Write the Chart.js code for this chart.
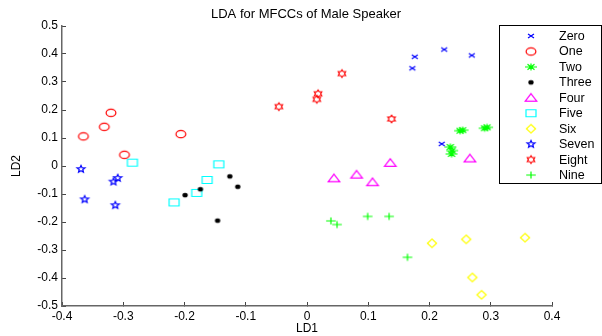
<!DOCTYPE html>
<html>
<head>
<meta charset="utf-8">
<script src="https://cdn.jsdelivr.net/npm/chart.js@4/dist/chart.umd.min.js"></script>
<style>
html,body{margin:0;padding:0;background:#fff;overflow:hidden}
#wrap{width:602px;height:336px;position:relative}
</style>
</head>
<body>
<div id="wrap"><canvas id="c" width="602" height="336"></canvas></div>
<script>
// ---------- data ----------
const categories = ['Zero','One','Two','Three','Four','Five','Six','Seven','Eight','Nine'];
const zeroPts  = [[0.176,0.390],[0.224,0.416],[0.269,0.395],[0.172,0.349],[0.220,0.079]];
const onePts   = [[-0.320,0.190],[-0.331,0.140],[-0.365,0.106],[-0.206,0.114],[-0.298,0.040]];
const twoPts   = [[0.250,0.126],[0.254,0.128],[0.294,0.138],[0.290,0.135],[0.234,0.068],[0.236,0.043],[0.237,0.055]];
const threePts = [[-0.199,-0.104],[-0.174,-0.083],[-0.126,-0.037],[-0.113,-0.074],[-0.146,-0.195]];
const fourPts  = [[0.044,-0.044],[0.081,-0.031],[0.107,-0.058],[0.136,0.011],[0.266,0.027]];
const fivePts  = [[-0.285,0.012],[-0.144,0.006],[-0.163,-0.050],[-0.180,-0.096],[-0.217,-0.130]];
const sixPts   = [[0.204,-0.276],[0.260,-0.262],[0.356,-0.256],[0.270,-0.398],[0.285,-0.460]];
const sevenPts = [[-0.369,-0.011],[-0.309,-0.043],[-0.316,-0.056],[-0.363,-0.119],[-0.313,-0.140]];
const eightPts = [[0.057,0.330],[0.018,0.258],[0.016,0.238],[-0.046,0.212],[0.138,0.168]];
const ninePts  = [[0.039,-0.196],[0.049,-0.209],[0.099,-0.180],[0.134,-0.180],[0.164,-0.326]];
const xTicks = [-0.4,-0.3,-0.2,-0.1,0,0.1,0.2,0.3,0.4];
const yTicks = [-0.5,-0.4,-0.3,-0.2,-0.1,0,0.1,0.2,0.3,0.4,0.5];
const series = [zeroPts,onePts,twoPts,threePts,fourPts,fivePts,sixPts,sevenPts,eightPts,ninePts];

// ---------- styles ----------
const colors = ['#0000ff','#ff0000','#00ff00','#000000','#ff00ff','#00ffff','#ffff00','#0000ff','#ff0000','#00ff00'];
const FONT = '"Liberation Sans", Arial, Helvetica, sans-serif';

function mk(draw, color){
  const cv = document.createElement('canvas');
  cv.width = 16; cv.height = 12;
  const g = cv.getContext('2d');
  g.strokeStyle = color; g.fillStyle = color; g.lineWidth = 1.2;
  g.translate(8, 6);
  draw(g);
  return cv;
}
function poly(g, pts, fill){
  g.beginPath(); g.moveTo(pts[0][0], pts[0][1]);
  for (let i=1;i<pts.length;i++) g.lineTo(pts[i][0], pts[i][1]);
  g.closePath(); fill ? g.fill() : g.stroke();
}
function star(n, rxo, ryo, ratio, rot){
  const p=[];
  for (let i=0;i<2*n;i++){
    const a = rot + i*Math.PI/n;
    const r = (i%2===0)?1:ratio;
    p.push([Math.cos(a)*rxo*r, Math.sin(a)*ryo*r]);
  }
  return p;
}
const shapes = [
  g => { g.beginPath(); g.moveTo(-3,-2); g.lineTo(3,2); g.moveTo(-3,2); g.lineTo(3,-2); g.stroke(); },
  g => { g.beginPath(); g.ellipse(0,0,4.9,3.7,0,0,Math.PI*2); g.stroke(); },
  g => { g.beginPath(); g.moveTo(-6,0); g.lineTo(6,0); g.moveTo(0,-3.5); g.lineTo(0,3.5);
         g.moveTo(-3.5,-2.8); g.lineTo(3.5,2.8); g.moveTo(-3.5,2.8); g.lineTo(3.5,-2.8); g.stroke(); },
  g => { g.beginPath(); g.ellipse(0,0,2.7,2.3,0,0,Math.PI*2); g.fill(); },
  g => poly(g, [[0,-4.2],[5.8,3.4],[-5.8,3.4]]),
  g => poly(g, [[-5,-3.5],[5,-3.5],[5,3.5],[-5,3.5]]),
  g => poly(g, [[0,-4.2],[4.6,0],[0,4.2],[-4.6,0]]),
  g => poly(g, star(5,4.2,3.7,0.45,-Math.PI/2)),
  g => poly(g, star(6,4.3,3.8,0.6,-Math.PI/2)),
  g => { g.beginPath(); g.moveTo(-4.8,0); g.lineTo(4.8,0); g.moveTo(0,-3.6); g.lineTo(0,3.6); g.stroke(); }
];
const markers = shapes.map((s,i)=>mk(s, colors[i]));

const legendPlugin = {
  id: 'mlegend',
  afterDraw(chart){
    const ctx = chart.ctx;
    ctx.save();
    ctx.fillStyle = '#fff';
    ctx.fillRect(499, 25, 103, 158);
    ctx.strokeStyle = '#000'; ctx.lineWidth = 1;
    ctx.strokeRect(499.5, 25.5, 102, 158);
    ctx.font = '12.5px ' + FONT;
    ctx.textBaseline = 'middle'; ctx.textAlign = 'left';
    chart.data.datasets.forEach((ds,i)=>{
      const y = 36 + i*15.45;
      const img = ds.pointStyle;
      ctx.drawImage(img, 531 - img.width/2, y - img.height/2);
      ctx.fillStyle = '#000';
      ctx.fillText(ds.label, 559, y + 0.5);
    });
    ctx.restore();
  }
};

const fmt = v => { const r = Math.round(v*10)/10; return r === 0 ? '0' : String(r); };

new Chart(document.getElementById('c'), {
  type: 'scatter',
  data: {
    datasets: categories.map((name,i)=>({
      label: name,
      data: series[i].map(([x,y])=>({x,y})),
      pointStyle: markers[i],
      pointRadius: 5, pointHoverRadius: 5,
      borderColor: colors[i], backgroundColor: colors[i],
      showLine: false
    }))
  },
  options: {
    responsive: false, animation: false, devicePixelRatio: 1,
    layout: { padding: { left: 10, right: 0, top: 0, bottom: 0 } },
    plugins: {
      legend: { display: false },
      tooltip: { enabled: false },
      title: { display: true, text: 'LDA for MFCCs of Male Speaker', color: '#000',
               font: { family: FONT, size: 13, weight: 'normal' }, padding: { top: 7, bottom: 3.4 } }
    },
    scales: {
      x: {
        type: 'linear', position: 'bottom', min: -0.4, max: 0.4,
        afterBuildTicks: s => { s.ticks = xTicks.map(v=>({value:v})); },
        ticks: { callback: fmt, color: '#000', font: { family: FONT, size: 12 }, padding: 7, maxRotation: 0, autoSkip: false },
        grid: { drawOnChartArea: false, drawTicks: true, tickLength: -4, color: '#444', lineWidth: 1 },
        border: { display: true, color: '#666', width: 1.5 },
        title: { display: true, text: 'LD1', color: '#000', font: { family: FONT, size: 12 }, padding: { top: 0, bottom: 0 } },
        afterFit: s => { s.height = 30; }
      },
      y: {
        type: 'linear', position: 'left', min: -0.5, max: 0.5,
        afterBuildTicks: s => { s.ticks = yTicks.map(v=>({value:v})); },
        ticks: { callback: fmt, color: '#000', font: { family: FONT, size: 12 }, padding: 8, autoSkip: false },
        grid: { drawOnChartArea: false, drawTicks: true, tickLength: -4, color: '#444', lineWidth: 1 },
        border: { display: true, color: '#666', width: 1.5 },
        title: { display: true, text: 'LD2', color: '#000', font: { family: FONT, size: 12 }, padding: { top: -1, bottom: 0 } },
        afterFit: s => { s.width = 52; }
      },
      yR: {
        type: 'linear', position: 'right', display: true,
        grid: { display: false }, ticks: { display: false }, border: { display: false },
        afterFit: s => { s.width = 50; }
      }
    }
  },
  plugins: [legendPlugin]
});
</script>
</body>
</html>
